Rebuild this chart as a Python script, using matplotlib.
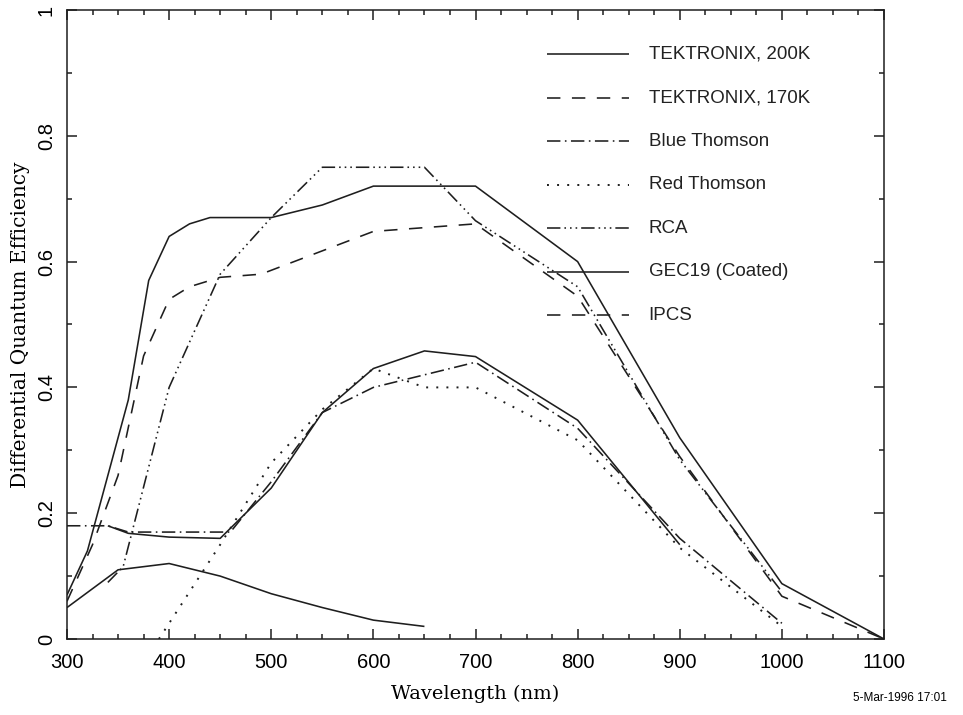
import matplotlib
matplotlib.use("Agg")
import matplotlib.pyplot as plt
from matplotlib.ticker import MultipleLocator

# Data (wavelength in nm, QE as fraction)
tek200_wl = [300, 320, 360, 380, 400, 420, 440, 500, 550, 600, 700, 800, 900, 1000, 1100]
tek200_qe = [0.07, 0.14, 0.38, 0.57, 0.64, 0.66, 0.67, 0.67, 0.69, 0.72, 0.72, 0.60, 0.32, 0.088, 0.0]

tek170_wl = [300, 325, 350, 375, 400, 420, 450, 490, 600, 700, 800, 900, 1000, 1100]
tek170_qe = [0.06, 0.15, 0.26, 0.45, 0.54, 0.56, 0.575, 0.58, 0.648, 0.66, 0.545, 0.29, 0.068, 0.0]

blue_wl = [300, 340, 360, 460, 500, 550, 600, 700, 800, 900, 1000]
blue_qe = [0.18, 0.18, 0.17, 0.17, 0.25, 0.36, 0.40, 0.44, 0.335, 0.16, 0.025]

red_wl = [390, 400, 450, 500, 550, 600, 650, 700, 800, 900, 1000]
red_qe = [0.0, 0.025, 0.15, 0.28, 0.365, 0.43, 0.40, 0.40, 0.316, 0.145, 0.02]

rca_wl = [340, 355, 400, 450, 500, 550, 650, 700, 800, 900, 1000]
rca_qe = [0.09, 0.115, 0.40, 0.58, 0.67, 0.75, 0.75, 0.665, 0.56, 0.285, 0.075]

gec_wl = [340, 360, 400, 450, 500, 550, 600, 650, 700, 800, 900]
gec_qe = [0.18, 0.168, 0.162, 0.16, 0.24, 0.36, 0.43, 0.458, 0.449, 0.348, 0.15]

ipcs_wl = [300, 350, 400, 450, 500, 550, 600, 650]
ipcs_qe = [0.05, 0.11, 0.12, 0.10, 0.072, 0.05, 0.03, 0.02]

labels = ["TEKTRONIX, 200K", "TEKTRONIX, 170K", "Blue Thomson", "Red Thomson",
          "RCA", "GEC19 (Coated)", "IPCS"]

# line styles (PGPLOT-like)
solid = (0, ())
dashed = (0, (8.4, 7.2))
dashdot = (0, (8.4, 2.8, 1.0, 2.8))
dotted = (0, (1.0, 4.2))
dashdotdot = (0, (8.4, 2.5, 1.0, 2.5, 1.0, 2.5, 1.0, 2.5))

col = "#1e1e1e"
lw = 1.15

fig = plt.figure(figsize=(9.63, 7.15), dpi=100)
ax = fig.add_axes([67 / 963, 1 - 639 / 715, 817 / 963, 629 / 715])

ax.plot(tek200_wl, tek200_qe, color=col, lw=lw, linestyle=solid)
ax.plot(tek170_wl, tek170_qe, color=col, lw=lw, linestyle=dashed)
ax.plot(blue_wl, blue_qe, color=col, lw=lw, linestyle=dashdot)
ax.plot(red_wl, red_qe, color=col, lw=1.4, linestyle=dotted)
ax.plot(rca_wl, rca_qe, color=col, lw=lw, linestyle=dashdotdot)
ax.plot(gec_wl, gec_qe, color=col, lw=lw, linestyle=solid)
ax.plot(ipcs_wl, ipcs_qe, color=col, lw=lw, linestyle=solid)

# legend drawn by hand, PGPLOT style
styles = [solid, dashed, dashdot, dotted, dashdotdot, solid, dashed]
for i, (lab, ls) in enumerate(zip(labels, styles)):
    yy = 0.930 - i * 0.0692
    ax.plot([0.5875, 0.688], [yy, yy], transform=ax.transAxes, color=col,
            lw=1.4 if ls == dotted else lw, linestyle=ls)
    ax.text(0.712, yy, lab, transform=ax.transAxes, va="center", ha="left",
            fontsize=13.5, family="Liberation Sans", color="#222222")

ax.set_xlim(300, 1100)
ax.set_ylim(0, 1)
ax.xaxis.set_major_locator(MultipleLocator(100))
ax.xaxis.set_minor_locator(MultipleLocator(25))
ax.yaxis.set_major_locator(MultipleLocator(0.2))
ax.yaxis.set_minor_locator(MultipleLocator(0.1))
ax.tick_params(which="both", direction="in", top=True, right=True, width=1.1, color=col)
ax.tick_params(which="major", length=7.5)
ax.tick_params(which="minor", length=3.5)
ax.tick_params(axis="x", pad=10, labelsize=14.5)
ax.tick_params(axis="y", pad=8, labelsize=14.5)
ax.set_yticks([0, 0.2, 0.4, 0.6, 0.8, 1.0])
ax.set_yticklabels(["0", "0.2", "0.4", "0.6", "0.8", "1"], rotation=90, va="center",
                   family="Liberation Sans")
ax.set_xticks(range(300, 1101, 100))
ax.set_xticklabels([str(v) for v in range(300, 1101, 100)], family="Liberation Sans")
for s in ax.spines.values():
    s.set_linewidth(1.1)
    s.set_color(col)

ax.set_xlabel("Wavelength (nm)", family="DejaVu Serif", fontsize=14, labelpad=9)
ax.set_ylabel("Differential Quantum Efficiency", family="DejaVu Serif", fontsize=14.5, labelpad=5)

fig.text(0.935, 0.024, "5-Mar-1996 17:01", ha="center", va="center", fontsize=8.5,
         family="Liberation Sans")

fig.savefig("out.png", dpi=100)
